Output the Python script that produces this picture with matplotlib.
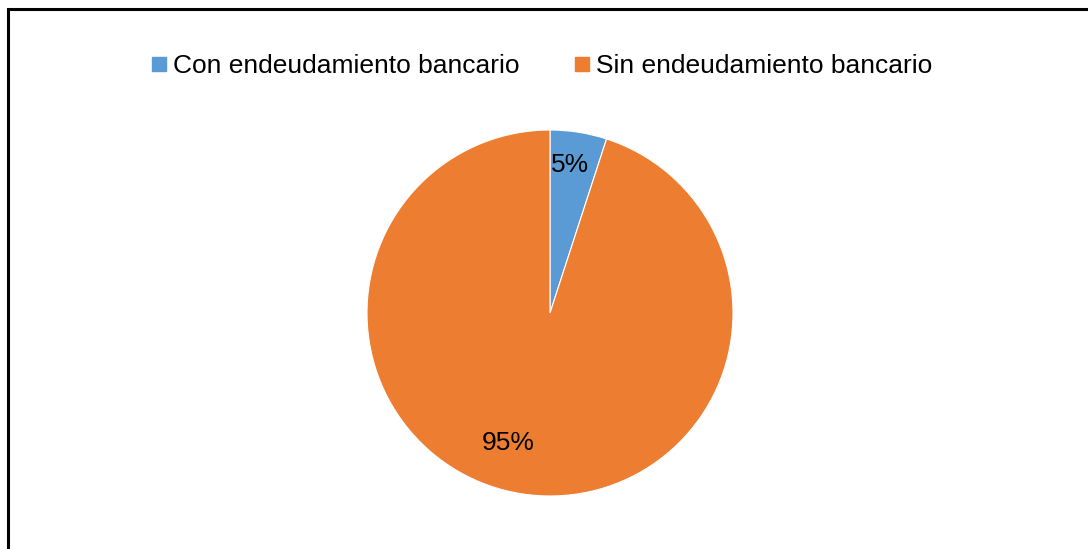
import matplotlib
matplotlib.use("Agg")
import matplotlib.pyplot as plt
from matplotlib.lines import Line2D
from matplotlib.patches import Rectangle

plt.rcParams['font.family'] = ['Liberation Sans', 'DejaVu Sans']

categories = ["Con endeudamiento bancario", "Sin endeudamiento bancario"]
values = [5, 95]
labels = ["5%", "95%"]
colors = ["#5B9BD5", "#ED7D31"]

W, H = 1088, 549
fig = plt.figure(figsize=(W / 100, H / 100), dpi=100)

# outer frame
fig.patches.append(Rectangle((8 / W, -0.1), 1.2, 1 - 9 / H + 0.1, transform=fig.transFigure,
                             fill=False, edgecolor="black", linewidth=2.2, zorder=10))

cx, cy, r = 550, 313, 183
ax = fig.add_axes([(cx - r) / W, (H - cy - r) / H, 2 * r / W, 2 * r / H])
wedges, texts = ax.pie(values, colors=colors, startangle=90, counterclock=False,
                       labels=labels, labeldistance=0.8,
                       wedgeprops=dict(linewidth=0.8, edgecolor="white"),
                       textprops=dict(fontsize=19, color="black", ha="center", va="center"))
texts[0].set_position((0.11, 0.81))
texts[1].set_position((-0.23, -0.71))
ax.set_xlim(-1, 1)
ax.set_ylim(-1, 1)
ax.set_aspect("equal")
ax.axis("off")

handles = [Line2D([0], [0], marker="s", linestyle="none", markersize=10,
                  markerfacecolor=c, markeredgecolor=c) for c in colors]
fig.legend(handles, categories, loc="center", bbox_to_anchor=(541 / W, 1 - 66 / H),
           ncol=2, frameon=False, fontsize=19, handletextpad=0.15, columnspacing=2.05,
           handlelength=0.7)

fig.savefig("out.png", dpi=100)
